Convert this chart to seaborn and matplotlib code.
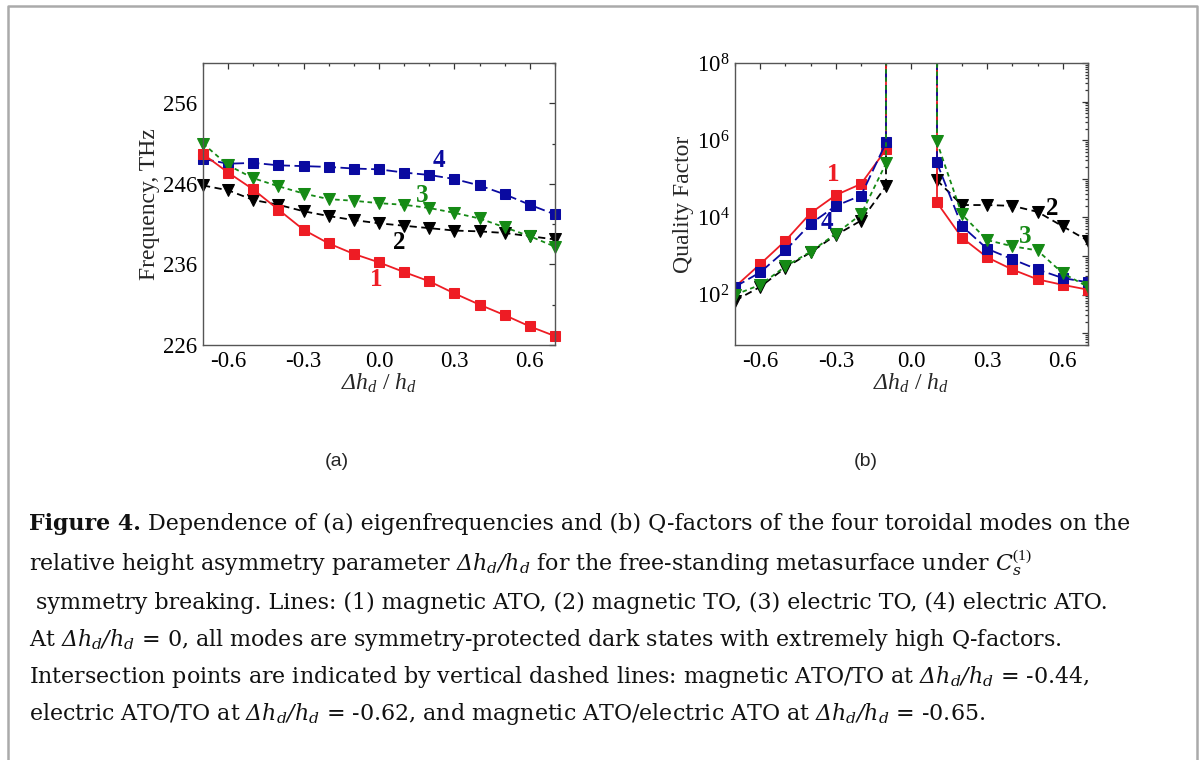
import numpy as np
import seaborn as sns
import matplotlib.pyplot as plt
from matplotlib.lines import Line2D
from matplotlib.ticker import FixedLocator, LogLocator, FuncFormatter, MultipleLocator, NullFormatter

# ---- data ----
x_all = [-0.7, -0.6, -0.5, -0.4, -0.3, -0.2, -0.1, 0.0, 0.1, 0.2, 0.3, 0.4, 0.5, 0.6, 0.7]

freq_1 = [249.7, 247.4, 245.3, 242.8, 240.3, 238.6, 237.3, 236.25, 235.05, 233.9, 232.4, 231.0, 229.7, 228.3, 227.1]
freq_2 = [245.8, 245.2, 244.0, 243.4, 242.6, 242.0, 241.5, 241.1, 240.8, 240.5, 240.2, 240.1, 239.9, 239.5, 239.1]
freq_3 = [251.0, 248.3, 246.7, 245.7, 244.8, 244.1, 243.9, 243.6, 243.4, 243.0, 242.4, 241.7, 240.6, 239.5, 238.2]
freq_4 = [249.1, 248.5, 248.6, 248.3, 248.2, 248.1, 247.9, 247.8, 247.4, 247.1, 246.6, 245.8, 244.7, 243.4, 242.2]

x_neg = [-0.7, -0.6, -0.5, -0.4, -0.3, -0.2, -0.1]
x_pos = [0.1, 0.2, 0.3, 0.4, 0.5, 0.6, 0.7]

q1_neg = [1.6e2, 6.2e2, 2.5e3, 1.3e4, 3.8e4, 7.4e4, 5.9e5]
q1_pos = [2.5e4, 3.0e3, 9.3e2, 4.5e2, 2.5e2, 1.8e2, 1.35e2]
q2_neg = [7.0e1, 1.6e2, 5.0e2, 1.25e3, 3.5e3, 8.3e3, 6.6e4]
q2_pos = [9.3e4, 2.1e4, 2.1e4, 2.0e4, 1.4e4, 5.9e3, 2.5e3]
q3_neg = [1.0e2, 1.8e2, 5.4e2, 1.3e3, 3.8e3, 1.2e4, 2.6e5]
q3_pos = [9.3e5, 1.2e4, 2.6e3, 1.8e3, 1.4e3, 3.6e2, 1.6e2]
q4_neg = [1.6e2, 3.8e2, 1.4e3, 6.9e3, 2.0e4, 3.7e4, 8.9e5]
q4_pos = [2.7e5, 6.0e3, 1.55e3, 8.3e2, 4.5e2, 2.7e2, 2.1e2]

freq_ticks = [226, 236, 246, 256]
freq_minor = [231, 241, 251, 261]
x_ticks = [-0.6, -0.3, 0.0, 0.3, 0.6]

# \mathsf is mapped to DejaVu Serif Italic below (keeps the Greek capital slanted)
ratio = r"$\mathsf{Δh_d/h_d}$"
caption = [
    "Dependence of (a) eigenfrequencies and (b) Q-factors of the four toroidal modes on the",
    "relative height asymmetry parameter " + ratio + r" for the free-standing metasurface under $\mathsf{C}_{\mathsf{s}}^{\mathrm{(1)}}$",
    " symmetry breaking. Lines: (1) magnetic ATO, (2) magnetic TO, (3) electric TO, (4) electric ATO.",
    "At " + ratio + " = 0, all modes are symmetry-protected dark states with extremely high Q-factors.",
    "Intersection points are indicated by vertical dashed lines: magnetic ATO/TO at " + ratio + " = -0.44,",
    "electric ATO/TO at " + ratio + " = -0.62, and magnetic ATO/electric ATO at " + ratio + " = -0.65.",
]

RED = "#ee1c24"
BLUE = "#0a0aa0"
GREEN = "#158a15"
BLACK = "#000000"

sns.set_style("white")
plt.rcParams["font.family"] = ["Liberation Serif", "DejaVu Serif"]
plt.rcParams["mathtext.fontset"] = "custom"
plt.rcParams["mathtext.rm"] = "Liberation Serif"
plt.rcParams["mathtext.it"] = "Liberation Serif:italic"
plt.rcParams["mathtext.bf"] = "Liberation Serif:bold"
plt.rcParams["mathtext.cal"] = "Liberation Serif:italic"
plt.rcParams["mathtext.sf"] = "DejaVu Serif:italic"
plt.rcParams["xtick.direction"] = "in"
plt.rcParams["ytick.direction"] = "in"

fig = plt.figure(figsize=(11.99, 7.6), dpi=100)
ax1 = fig.add_axes([0.1693, 0.5461, 0.2936, 0.371])
ax2 = fig.add_axes([0.6130, 0.5461, 0.2944, 0.371])

styles = {
    "4": dict(color=BLUE, linestyle=(0, (6, 2.5)), marker="s", markersize=7.5),
    "2": dict(color=BLACK, linestyle=(0, (4, 2.5)), marker="v", markersize=8.5),
    "3": dict(color=GREEN, linestyle=(0, (2.5, 2)), marker="v", markersize=8.5),
    "1": dict(color=RED, linestyle="-", marker="s", markersize=7.5),
}

# (a) frequencies
for key, y in [("4", freq_4), ("2", freq_2), ("3", freq_3), ("1", freq_1)]:
    st = styles[key]
    sns.lineplot(x=x_all, y=y, ax=ax1, color=st["color"], linestyle=st["linestyle"],
                 marker=st["marker"], markersize=st["markersize"], markeredgecolor=st["color"],
                 linewidth=1.3, errorbar=None, clip_on=False)

ax1.set_xlim(-0.7, 0.7)
ax1.set_ylim(226, 261)
ax1.yaxis.set_major_locator(FixedLocator(freq_ticks))
ax1.yaxis.set_minor_locator(FixedLocator(freq_minor))
ax1.set_ylabel("Frequency, THz", fontsize=17, labelpad=2)

for txt, xx, yy, c in [("4", 0.24, 248.9, BLUE), ("3", 0.17, 244.6, GREEN),
                       ("2", 0.08, 238.7, BLACK), ("1", -0.01, 234.1, RED)]:
    ax1.text(xx, yy, txt, color=c, fontsize=18, fontweight="bold", ha="center", va="center")

# (b) Q-factors
order_b = [("2", q2_neg, q2_pos), ("1", q1_neg, q1_pos), ("4", q4_neg, q4_pos), ("3", q3_neg, q3_pos)]
for key, qn, qp in order_b:
    st = styles[key]
    for xs, qs in [(x_neg, qn), (x_pos, qp)]:
        sns.lineplot(x=xs, y=qs, ax=ax2, color=st["color"], linestyle=st["linestyle"],
                     marker=st["marker"], markersize=st["markersize"], markeredgecolor=st["color"],
                     linewidth=1.3, errorbar=None)
    # Q diverges toward the symmetric point
    ax2.vlines([x_neg[-1], x_pos[0]], [qn[-1], qp[0]], 1e9, color=st["color"],
               linestyle=st["linestyle"], linewidth=1.3)

ax2.set_yscale("log")
ax2.set_xlim(-0.7, 0.7)
ax2.set_ylim(5, 1e8)
ax2.yaxis.set_major_locator(LogLocator(base=10, numticks=20))
ax2.yaxis.set_minor_locator(LogLocator(base=10, subs=np.arange(2, 10), numticks=20))
ax2.yaxis.set_minor_formatter(NullFormatter())
ax2.yaxis.set_major_formatter(FuncFormatter(
    lambda v, p: r"$10^{%d}$" % round(np.log10(v)) if round(np.log10(v)) % 2 == 0 else ""))
ax2.set_ylabel("Quality Factor", fontsize=17, labelpad=2)

for txt, xx, yy, c in [("1", -0.31, 10**5.1, RED), ("4", -0.335, 10**3.87, BLUE),
                       ("3", 0.45, 10**3.5, GREEN), ("2", 0.56, 10**4.23, BLACK)]:
    ax2.text(xx, yy, txt, color=c, fontsize=18, fontweight="bold", ha="center", va="center")

for ax in (ax1, ax2):
    ax.xaxis.set_major_locator(FixedLocator(x_ticks))
    ax.xaxis.set_minor_locator(MultipleLocator(0.1))
    ax.xaxis.set_major_formatter(FuncFormatter(lambda v, p: "%.1f" % v if abs(v) > 1e-9 else "0.0"))
    ax.set_xlabel(r"$\mathcal{Δh_d}$ / $\mathcal{h_d}$", fontsize=17, labelpad=0)
    ax.tick_params(which="both", top=True, right=True, colors="#333333", labelcolor="black",
                   labelsize=16.5, width=0.9)
    ax.tick_params(which="major", length=4, pad=4)
    ax.tick_params(which="minor", length=2.5)
    for sp in ax.spines.values():
        sp.set_color("#555555")
        sp.set_linewidth(1.0)

fig.text(337 / 1199, 1 - 461 / 760, "(a)", family="Liberation Sans", fontsize=14, ha="center", va="center")
fig.text(866 / 1199, 1 - 461 / 760, "(b)", family="Liberation Sans", fontsize=14, ha="center", va="center")

# caption
cap_x = 29 / 1199
baselines = [530, 571, 609, 646, 683, 720]
cap_kw = dict(family="DejaVu Serif", fontsize=15.9, color="#111111")
t0 = fig.text(cap_x, 1 - baselines[0] / 760, "Figure 4.", fontweight="bold", va="baseline", **cap_kw)
fig.add_artist(plt.Annotation(" " + caption[0], xy=(1, 0), xycoords=t0, va="bottom", ha="left", **cap_kw))
for line, b in zip(caption[1:], baselines[1:]):
    fig.text(cap_x, 1 - b / 760, line, va="baseline", **cap_kw)

# frame around the figure
fx0, fx1, fy1 = 8 / 1199, 1197 / 1199, 1 - 6 / 760
fig.add_artist(Line2D([fx0, fx0, fx1, fx1], [-0.01, fy1, fy1, -0.01], color="#aaaaaa",
                      linewidth=1.8, transform=fig.transFigure))

fig.savefig("out.png", dpi=100)
